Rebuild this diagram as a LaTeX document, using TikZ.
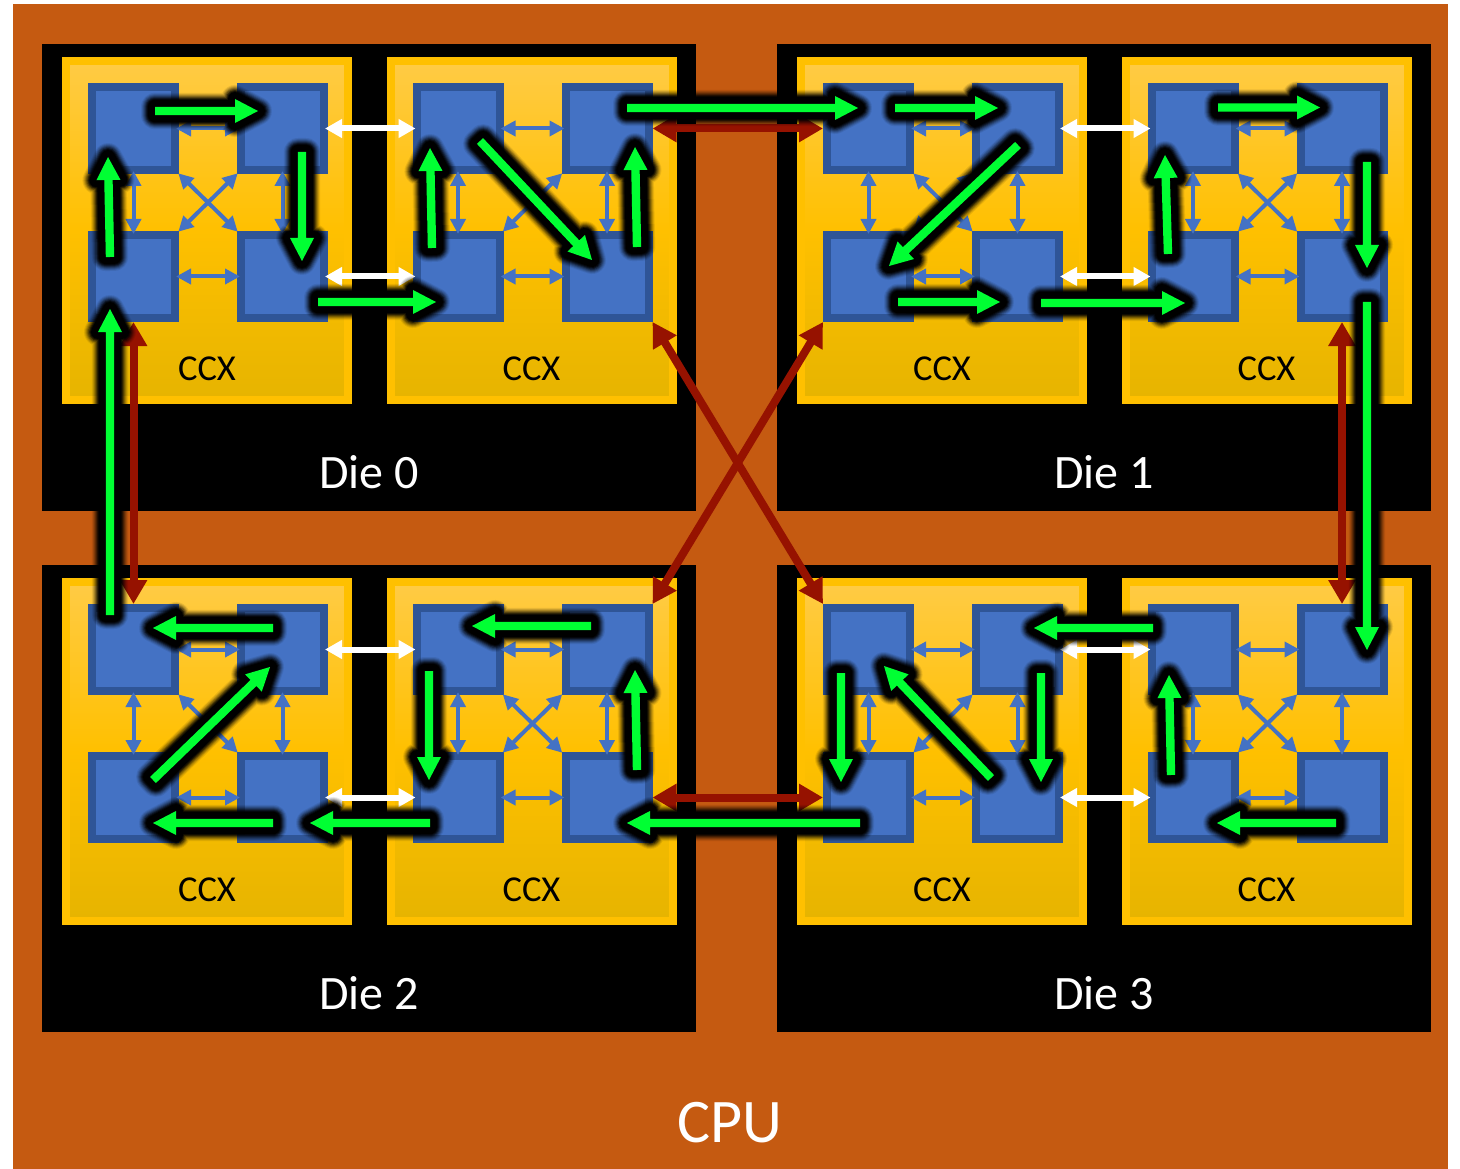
\documentclass[tikz,border=0pt]{standalone}
\usepackage{fontspec}
\setmainfont{Carlito}
\usetikzlibrary{arrows.meta,calc}
\definecolor{cpuor}{HTML}{C55A11}
\definecolor{ccxor}{HTML}{FFC000}
\definecolor{ccxtop}{HTML}{FFCB45}
\definecolor{ccxbot}{HTML}{E6B400}
\definecolor{corefill}{HTML}{4472C4}
\definecolor{coreedge}{HTML}{2F5597}
\definecolor{linkred}{HTML}{961200}
\definecolor{linkgreen}{HTML}{00FF33}
\tikzset{
  cpubox/.style={fill=cpuor,draw=none},
  diebox/.style={fill=black,draw=none},
  ccxbox/.style={draw=ccxor,line width=8pt,top color=ccxtop,bottom color=ccxbot,middle color=ccxor,minimum width=282pt,minimum height=339pt,inner sep=0pt,anchor=north west},
  corebox/.style={draw=coreedge,fill=corefill,line width=8pt,minimum size=83pt,inner sep=0pt},
  ccxlabel/.style={text=black,font=\fontsize{36.5}{40}\selectfont},
  dielabel/.style={text=white,font=\fontsize{48}{50}\selectfont},
  cpulabel/.style={text=white,font=\fontsize{62}{64}\selectfont},
  bluelink/.style={draw=corefill,line width=4pt,{Triangle[length=15pt,width=15pt]}-{Triangle[length=15pt,width=15pt]},shorten <=-3pt,shorten >=-3pt},
  whitelink/.style={draw=white,line width=6pt,{Triangle[length=17pt,width=18pt]}-{Triangle[length=17pt,width=18pt]},shorten <=-3pt,shorten >=-3pt},
  redlink/.style={draw=linkred,line width=8pt,{Triangle[length=24pt,width=26pt]}-{Triangle[length=24pt,width=26pt]}},
}
% one CCX: name, x, y
\newcommand{\ccxgroup}[3]{%
  \node[ccxbox] (#1) at (#2,#3) {};
  \node[ccxlabel] (#1-label) at (#2+145,#3+312) {CCX};
  \node[corebox] (#1-a) at (#2+71.5,#3+71.5) {};
  \node[corebox] (#1-b) at (#2+220.5,#3+71.5) {};
  \node[corebox] (#1-c) at (#2+71.5,#3+219.5) {};
  \node[corebox] (#1-d) at (#2+220.5,#3+219.5) {};
  \draw[bluelink] (#1-a.east) -- (#1-b.west);
  \draw[bluelink] (#1-c.east) -- (#1-d.west);
  \draw[bluelink] (#1-a.south) -- (#1-c.north);
  \draw[bluelink] (#1-b.south) -- (#1-d.north);
  \draw[bluelink,shorten <=-1pt,shorten >=-1pt] (#1-a.south east) -- (#1-d.north west);
  \draw[bluelink,shorten <=-1pt,shorten >=-1pt] (#1-b.south west) -- (#1-c.north east);
}
\newcounter{glnk}
% green glowing arrow between two named coordinates
\newcommand{\greenlink}[2]{%
  \stepcounter{glnk}%
  \edef\gn{g\arabic{glnk}}%
  \coordinate (\gn s) at (#1);
  \coordinate (\gn e) at (#2);
  \coordinate (\gn n) at ($(\gn e)!23pt!(\gn s)$);
  \def\gpath{($(\gn s)!4.2pt!90:(\gn e)$) -- ($(\gn n)!4.2pt!90:(\gn e)$) -- ($(\gn n)!12pt!90:(\gn e)$) -- (\gn e) -- ($(\gn n)!12pt!-90:(\gn e)$) -- ($(\gn n)!4.2pt!-90:(\gn e)$) -- ($(\gn s)!4.2pt!-90:(\gn e)$) -- cycle}%
  \foreach \w/\o in {28/0.08,26/0.12,24/0.16,22/0.22,20/0.3,18/0.45,16/0.6,14/1}{%
    \draw[black,fill=black,line join=round,line width=\w pt,opacity=\o] \gpath;
  }
  \fill[linkgreen] \gpath;
}
\begin{document}
\begin{tikzpicture}[x=1pt,y=-1pt]
\useasboundingbox (0,0) rectangle (1460,1169);
\fill[cpubox] (13,4) rectangle (1448,1169);
\node[cpulabel] (cpu) at (730,1123) {CPU};
\fill[diebox] (42,44) rectangle (696,511);
\fill[diebox] (777,44) rectangle (1431,511);
\fill[diebox] (42,565) rectangle (696,1032);
\fill[diebox] (777,565) rectangle (1431,1032);
\node[dielabel] (die0) at (369,472.5) {Die 0};
\node[dielabel] (die1) at (1104,472.5) {Die 1};
\node[dielabel] (die2) at (369,993.5) {Die 2};
\node[dielabel] (die3) at (1104,993.5) {Die 3};
\ccxgroup{p}{62}{57}
\ccxgroup{q}{386.5}{57}
\ccxgroup{r}{797}{57}
\ccxgroup{s}{1121.5}{57}
\ccxgroup{t}{62}{578}
\ccxgroup{u}{386.5}{578}
\ccxgroup{v}{797}{578}
\ccxgroup{w}{1121.5}{578}
% white links
\foreach \l/\m in {p/q,r/s,t/u,v/w}{
  \draw[whitelink] (\l-b.east) -- (\m-a.west);
  \draw[whitelink] (\l-d.east) -- (\m-c.west);
}
% red links
\draw[redlink] (p-c.south) -- (t-a.north);
\draw[redlink] (s-d.south) -- (w-b.north);
\draw[redlink] (q-b.east) -- (r-a.west);
\draw[redlink] (u-d.east) -- (v-c.west);
\draw[redlink] (q-d.south east) -- (v-a.north west);
\draw[redlink] (r-c.south west) -- (u-b.north east);
% green links: Die 0
\greenlink{155,111}{258,111}
\greenlink{110,257}{108,157}
\greenlink{302,152}{302,261}
\greenlink{318,302}{436,302}
\greenlink{110,615}{110,309}
\greenlink{432,248}{430,148}
\greenlink{480,141}{592,260}
\greenlink{637,247}{635,147}
\greenlink{627,108}{858,108}
% Die 1
\greenlink{895,108}{998,108}
\greenlink{1018,145}{889,266}
\greenlink{898,302}{1000,302}
\greenlink{1041,303}{1185,303}
\greenlink{1168,254}{1165,155}
\greenlink{1218,107.5}{1320,107.5}
\greenlink{1367,162}{1367,268}
\greenlink{1367,302}{1367,650}
% Die 2
\greenlink{273,628}{153,628}
\greenlink{153,780}{270,667}
\greenlink{273,823}{153,823}
\greenlink{430,823}{310,823}
\greenlink{429,671}{429,780}
\greenlink{591,626}{472,626}
\greenlink{637,770}{635,670}
\greenlink{860,823}{627,823}
% Die 3
\greenlink{1153,628}{1034,628}
\greenlink{841,673}{841,782}
\greenlink{991,778}{884,666}
\greenlink{1041,673}{1041,782}
\greenlink{1171,775}{1169,675}
\greenlink{1336,823}{1217,823}
\end{tikzpicture}
\end{document}
